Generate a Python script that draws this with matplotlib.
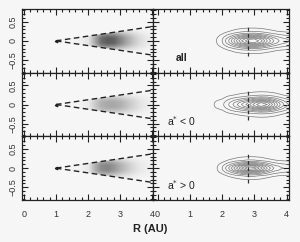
import numpy as np
import matplotlib
matplotlib.use('Agg')
import matplotlib.pyplot as plt
from matplotlib.ticker import MultipleLocator
from matplotlib.colors import LinearSegmentedColormap
from matplotlib.patches import Polygon

plt.rcParams['font.family'] = ['Liberation Sans', 'DejaVu Sans']

# ---- data ----
panel_labels = ['all', 'a$^{*}$ < 0', 'a$^{*}$ > 0']

# cone (dashed lines) in the left panels
cone_R = [1.0, 4.0]
cone_half = [0.0, 0.37]

# scatter density: profile along R and across y (left panels)
dens_R = [1.4, 1.6, 1.8, 2.0, 2.2, 2.4, 2.6, 2.8, 3.0, 3.2, 3.4, 3.6, 3.8, 4.0]
dens_all = [0.01, 0.02, 0.04, 0.10, 0.45, 0.80, 0.90, 0.85, 0.65, 0.45, 0.28, 0.15, 0.08, 0.04]
dens_neg = [0.01, 0.01, 0.03, 0.07, 0.25, 0.40, 0.45, 0.45, 0.40, 0.30, 0.20, 0.11, 0.06, 0.03]
dens_pos = [0.01, 0.01, 0.03, 0.08, 0.40, 0.62, 0.65, 0.55, 0.40, 0.27, 0.16, 0.08, 0.05, 0.03]
dens_y = [0.0, 0.05, 0.10, 0.15, 0.20, 0.25, 0.30, 0.35, 0.40]
dens_gy = [1.0, 1.0, 0.90, 0.70, 0.45, 0.25, 0.10, 0.03, 0.0]

# contour distributions (right panels)
cont_R = [1.6, 1.8, 2.0, 2.2, 2.4, 2.6, 2.8, 3.0, 3.2, 3.4, 3.6, 3.8, 4.0, 4.2]
cont_all = [0.0, 0.02, 0.10, 0.30, 0.55, 0.80, 0.97, 1.00, 0.85, 0.60, 0.40, 0.28, 0.22, 0.18]
cont_neg = [0.0, 0.04, 0.07, 0.20, 0.35, 0.50, 0.65, 0.85, 1.00, 0.90, 0.65, 0.40, 0.22, 0.15]
cont_pos = [0.0, 0.01, 0.10, 0.30, 0.55, 0.80, 1.00, 0.95, 0.75, 0.50, 0.30, 0.22, 0.18, 0.15]
cont_y = [0.0, 0.05, 0.10, 0.15, 0.20, 0.25, 0.30, 0.35, 0.40]
cont_gy_wide = [1.0, 0.90, 0.65, 0.40, 0.20, 0.09, 0.05, 0.02, 0.0]
cont_gy_narrow = [1.0, 0.85, 0.55, 0.30, 0.12, 0.06, 0.03, 0.01, 0.0]
cont_levels = [0.03, 0.1, 0.2, 0.3, 0.4, 0.5, 0.6, 0.7, 0.8, 0.9]

mark_R = 2.8
mark_y = [-0.4, 0.4]

xticks = [0, 1, 2, 3, 4]
yticks = [-0.5, 0, 0.5]
ytick_labels = ['\u22120.5', '0', '0.5']

left_dens = [dens_all, dens_neg, dens_pos]
right_cont = [(cont_all, cont_gy_wide), (cont_neg, cont_gy_wide), (cont_pos, cont_gy_narrow)]

bg = '#f6f6f6'
dens_cmap = LinearSegmentedColormap.from_list('dens', [bg, '#4a4a4a'])


def mirror(vals):
    vals = np.asarray(vals)
    return np.concatenate([vals[::-1], vals[1:]])


def style(ax, xlim, show_x, show_y):
    ax.set_facecolor(bg)
    ax.set_xlim(*xlim)
    ax.set_ylim(-0.83, 0.83)
    ax.xaxis.set_major_locator(MultipleLocator(1))
    ax.xaxis.set_minor_locator(MultipleLocator(0.2))
    ax.yaxis.set_minor_locator(MultipleLocator(0.1))
    ax.set_yticks(yticks)
    ax.tick_params(which='both', direction='in', top=True, right=True,
                   color='#222222', width=0.8, labelsize=6.5, labelcolor='#333333')
    ax.tick_params(which='major', length=4)
    ax.tick_params(which='minor', length=2)
    ax.tick_params(axis='x', pad=7)
    ax.tick_params(axis='y', pad=3)
    if show_x:
        ax.set_xticks(xticks)
        ax.set_xticklabels([str(t) for t in xticks])
    else:
        ax.set_xticklabels([])
    if show_y:
        ax.set_yticklabels(ytick_labels, rotation=90, va='center')
    else:
        ax.set_yticklabels([])
    for s in ax.spines.values():
        s.set_linewidth(0.9)
        s.set_color('#222222')


fig = plt.figure(figsize=(3.0, 2.42), dpi=100)
fig.patch.set_facecolor(bg)

W, H = 300.0, 242.0
row_edges = [9, 72.7, 136.3, 200]
lx0, lx1 = 22, 153
rx0, rx1 = 153, 289

for i in range(3):
    top, bot = row_edges[i], row_edges[i + 1]
    axl = fig.add_axes([lx0 / W, 1 - bot / H, (lx1 - lx0) / W, (bot - top) / H])
    axr = fig.add_axes([rx0 / W, 1 - bot / H, (rx1 - rx0) / W, (bot - top) / H])
    style(axl, (-0.06, 4.03), i == 2, True)
    style(axr, (-0.14, 4.07), i == 2, False)

    # left: point cloud density inside the cone
    z = np.outer(mirror(dens_gy), left_dens[i])
    step_R = dens_R[1] - dens_R[0]
    step_y = dens_y[1] - dens_y[0]
    im = axl.imshow(z, extent=[dens_R[0] - step_R / 2, dens_R[-1] + step_R / 2,
                               -dens_y[-1] - step_y / 2, dens_y[-1] + step_y / 2],
                    origin='lower', aspect='auto', cmap=dens_cmap, vmin=0, vmax=1,
                    interpolation='bilinear', zorder=1)
    clip = Polygon([[cone_R[0], cone_half[0]], [cone_R[1], cone_half[1]],
                    [cone_R[1], -cone_half[1]]], closed=True, transform=axl.transData)
    im.set_clip_path(clip)
    axl.plot(cone_R, cone_half, ls=(0, (4, 2.5)), color='#222222', lw=1.0, zorder=3)
    axl.plot(cone_R, [-h for h in cone_half], ls=(0, (4, 2.5)), color='#222222', lw=1.0, zorder=3)
    axl.plot([cone_R[0]], [0], marker='<', ms=1.8, color='#222222', zorder=3)

    # right: contours
    fr, gy = right_cont[i]
    zc = np.outer(mirror(gy), fr)
    yy = np.concatenate([-np.asarray(cont_y)[::-1], np.asarray(cont_y)[1:]])
    axr.contour(cont_R, yy, zc, levels=cont_levels, colors='#777777', linewidths=0.5, zorder=2)
    axr.plot([mark_R, mark_R], mark_y, ls=(0, (3, 2)), color='#333333', lw=0.9, zorder=3)
    if i == 0:
        axr.text(0.57, -0.45, panel_labels[i], fontsize=7.5, fontweight='bold',
                 color='#222222', va='center', ha='left')
    else:
        axr.text(0.3, -0.43, panel_labels[i], fontsize=7.5, color='#222222',
                 va='center', ha='left')

fig.text(150 / W, 1 - 229 / H, 'R (AU)', fontsize=8, fontweight='bold',
         ha='center', va='center', color='#222222')

fig.savefig('out.png', dpi=100, facecolor=bg)
